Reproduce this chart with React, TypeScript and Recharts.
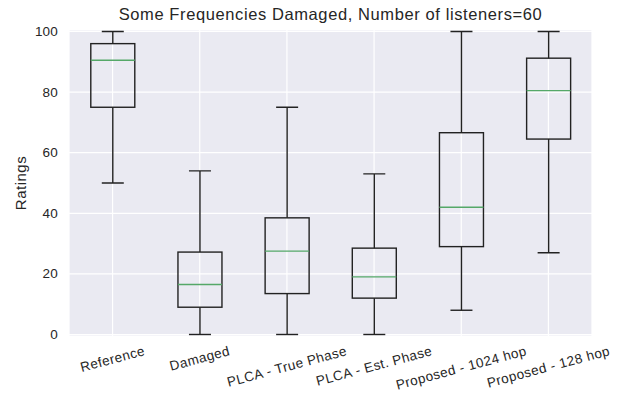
import React from 'react';
import { ComposedChart, Bar, XAxis, YAxis, CartesianGrid } from 'recharts';

const categories = ['Reference', 'Damaged', 'PLCA - True Phase', 'PLCA - Est. Phase', 'Proposed - 1024 hop', 'Proposed - 128 hop'];
const whiskerLow = [50, 0, 0, 0, 8, 27];
const quartile1 = [75, 9, 13.5, 12, 29, 64.5];
const medians = [90.5, 16.5, 27.5, 19, 42, 80.5];
const quartile3 = [96, 27.2, 38.5, 28.5, 66.6, 91.2];
const whiskerHigh = [100, 54, 75, 53, 100, 100];
const yTicks = [0, 20, 40, 60, 80, 100];
const title = 'Some Frequencies Damaged, Number of listeners=60';
const yLabel = 'Ratings';

const data = categories.map((name, i) => ({
  name,
  range: [whiskerLow[i], whiskerHigh[i]],
  low: whiskerLow[i],
  q1: quartile1[i],
  median: medians[i],
  q3: quartile3[i],
  high: whiskerHigh[i],
}));

const FONT = '"Liberation Sans", Arial, sans-serif';
const TEXT = '#262626';
const BOX = '#222222';
const MEDIAN = '#55A868';

const BoxShape = (props: any) => {
  const { x, y, width, height, payload } = props;
  if (!payload) return null;
  const top = Math.min(y, y + height);
  const bottom = Math.max(y, y + height);
  const span = payload.high - payload.low || 1;
  const py = (v: number) => bottom - ((bottom - top) * (v - payload.low)) / span;
  const cx = x + width / 2;
  const capHalf = width / 4;
  const sw = 1.4;
  return (
    <g>
      <line x1={cx} x2={cx} y1={py(payload.high)} y2={py(payload.q3)} stroke={BOX} strokeWidth={sw} />
      <line x1={cx} x2={cx} y1={py(payload.q1)} y2={py(payload.low)} stroke={BOX} strokeWidth={sw} />
      <line x1={cx - capHalf} x2={cx + capHalf} y1={py(payload.high)} y2={py(payload.high)} stroke={BOX} strokeWidth={sw} />
      <line x1={cx - capHalf} x2={cx + capHalf} y1={py(payload.low)} y2={py(payload.low)} stroke={BOX} strokeWidth={sw} />
      <rect x={x} y={py(payload.q3)} width={width} height={py(payload.q1) - py(payload.q3)} fill="none" stroke={BOX} strokeWidth={sw} />
      <line x1={x} x2={x + width} y1={py(payload.median)} y2={py(payload.median)} stroke={MEDIAN} strokeWidth={1.4} />
    </g>
  );
};

let measureCtx: CanvasRenderingContext2D | null = null;
const measure = (s: string, font: string, spacing: number) => {
  if (!measureCtx) {
    const c = document.createElement('canvas');
    measureCtx = c.getContext('2d');
  }
  if (!measureCtx) return s.length * 7;
  measureCtx.font = font;
  return measureCtx.measureText(s).width + spacing * s.length;
};

const ROT = 15;
const XTick = (props: any) => {
  const { x, y, payload } = props;
  const label = String(payload.value);
  const fs = 13.5;
  const ls = 0.45;
  const w = measure(label, `${fs}px ${FONT}`, ls);
  const rad = (ROT * Math.PI) / 180;
  const h = fs * 1.15;
  const cy = y + (w * Math.sin(rad) + h * Math.cos(rad)) / 2;
  return (
    <text
      x={x}
      y={cy}
      textAnchor="middle"
      dominantBaseline="central"
      transform={`rotate(${-ROT}, ${x}, ${cy})`}
      fontSize={fs}
      letterSpacing={ls}
      fontFamily={FONT}
      fill={TEXT}
    >
      {label}
    </text>
  );
};

const YTick = (props: any) => {
  const { x, y, payload } = props;
  return (
    <text x={x} y={y} textAnchor="end" dominantBaseline="central" fontSize={13.5} letterSpacing={0.2} fontFamily={FONT} fill={TEXT}>
      {payload.value}
    </text>
  );
};

const YLabel = (props: any) => {
  const vb = props.viewBox || {};
  const cx = (vb.x || 0) + 20.5;
  const cy = (vb.y || 0) + (vb.height || 0) / 2;
  return (
    <text
      x={cx}
      y={cy}
      textAnchor="middle"
      dominantBaseline="central"
      transform={`rotate(-90, ${cx}, ${cy})`}
      fontSize={15}
      letterSpacing={0.5}
      fontFamily={FONT}
      fill={TEXT}
    >
      {yLabel}
    </text>
  );
};

export default function App() {
  return (
    <div style={{ position: 'absolute', left: 0, top: 0, width: 620, height: 398, background: '#fff' }}>
      <div
        style={{
          position: 'absolute',
          left: 69,
          width: 523,
          top: 6,
          textAlign: 'center',
          fontFamily: FONT,
          fontSize: 16.5,
          lineHeight: '16px',
          letterSpacing: 0.6,
          color: TEXT,
          whiteSpace: 'nowrap',
        }}
      >
        {title}
      </div>
      <ComposedChart
        width={620}
        height={398}
        data={data}
        margin={{ top: 30, right: 28, left: 0, bottom: 0 }}
        barCategoryGap="25%"
      >
        <CartesianGrid fill="#EAEAF2" stroke="#FFFFFF" strokeWidth={1.2} horizontal vertical />
        <XAxis
          dataKey="name"
          height={62}
          axisLine={false}
          tickLine={false}
          tickSize={0}
          tickMargin={7}
          interval={0}
          tick={<XTick />}
        />
        <YAxis
          type="number"
          domain={[-0.5, 100.5]}
          ticks={yTicks}
          allowDataOverflow
          width={69}
          axisLine={false}
          tickLine={false}
          tickSize={0}
          tickMargin={11}
          tick={<YTick />}
          label={<YLabel />}
        />
        <Bar dataKey="range" isAnimationActive={false} shape={<BoxShape />} />
      </ComposedChart>
    </div>
  );
}
